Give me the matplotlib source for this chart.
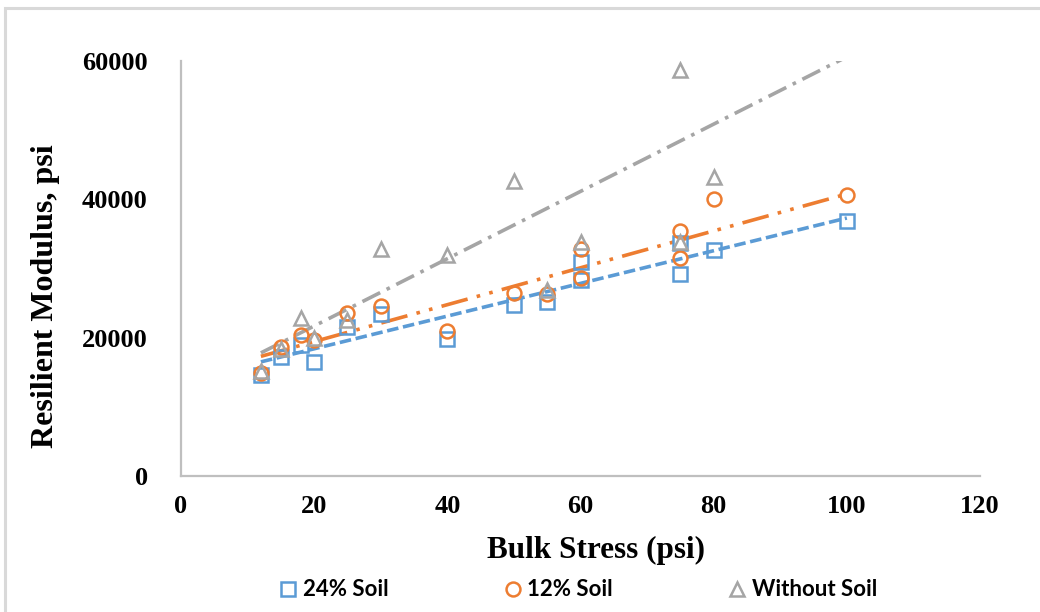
import matplotlib
matplotlib.use("Agg")
import matplotlib.pyplot as plt
from matplotlib.lines import Line2D
from matplotlib.patches import Rectangle

# Bulk stress (psi) and resilient modulus (psi) per mix
x_24 = [12, 15, 18, 20, 25, 30, 40, 50, 55, 60, 60, 75, 75, 80, 100]
y_24 = [14600, 17200, 18940, 16480, 21540, 23420, 19800, 24720, 25150,
        30940, 28300, 33690, 29200, 32670, 36870]

x_12 = [12, 15, 18, 20, 25, 30, 40, 50, 55, 60, 60, 75, 75, 80, 100]
y_12 = [14900, 18650, 20390, 19660, 23570, 24580, 20960, 26460, 26310,
        32800, 28600, 35420, 31520, 40050, 40620]

x_0 = [12, 15, 18, 20, 25, 30, 40, 50, 55, 60, 75, 75, 80]
y_0 = [15200, 18300, 22840, 19900, 22500, 32800, 31950, 42650, 26890,
       33830, 58700, 33800, 43200]

# Linear trendline end points
trend_x = [12, 100]
trend_24 = [16500, 37300]
trend_12 = [17300, 40770]
trend_0 = [17800, 60600]

labels = ["24% Soil", "12% Soil", "Without Soil"]
x_ticks = [0, 20, 40, 60, 80, 100, 120]
y_ticks = [0, 20000, 40000, 60000]

BLUE = "#5B9BD5"
ORANGE = "#ED7D31"
GRAY = "#A5A5A5"
AXIS = "#BFBFBF"

serif = ["Liberation Serif", "DejaVu Serif"]

fig = plt.figure(figsize=(10.4, 6.12), dpi=100)
fig.patches.append(Rectangle((0.005, -0.1), 1.2, 1.087, transform=fig.transFigure,
                             fill=False, edgecolor="#D9D9D9", linewidth=2.2))

ax = fig.add_axes([181 / 1040, 136 / 612, 799 / 1040, 415 / 612])

lw = 2.6
ax.plot(trend_x, trend_24, color=BLUE, lw=lw, dashes=(3.2, 1.3),
        dash_capstyle="butt", zorder=2)
ax.plot(trend_x, trend_12, color=ORANGE, lw=lw,
        dashes=(7.5, 2.6, 1.0, 2.6, 1.0, 2.6), dash_capstyle="butt", zorder=2)
ax.plot(trend_x, trend_0, color=GRAY, lw=lw, dashes=(5.5, 2.0, 1.0, 2.0),
        dash_capstyle="butt", zorder=2)

mk = dict(linestyle="none", markerfacecolor="none", markeredgewidth=1.8)
ax.plot(x_24, y_24, marker="s", markersize=9.5, markeredgecolor=BLUE, zorder=3, **mk)
ax.plot(x_12, y_12, marker="o", markersize=10, markeredgecolor=ORANGE, zorder=3, **mk)
ax.plot(x_0, y_0, marker="^", markersize=9.5, markeredgecolor=GRAY, zorder=3, **mk)

ax.set_xlim(0, 120)
ax.set_ylim(0, 60000)
ax.set_xticks(x_ticks)
ax.set_yticks(y_ticks)
ax.tick_params(axis="x", length=0, pad=14)
ax.tick_params(axis="y", length=0, pad=24)
for lab in ax.get_xticklabels() + ax.get_yticklabels():
    lab.set_fontfamily(serif)
    lab.set_fontweight("bold")
    lab.set_fontsize(19)

for side in ("top", "right"):
    ax.spines[side].set_visible(False)
for side in ("left", "bottom"):
    ax.spines[side].set_color(AXIS)
    ax.spines[side].set_linewidth(1.6)

ax.set_xlabel("Bulk Stress (psi)", family=serif, fontweight="bold", fontsize=22.5)
ax.set_ylabel("Resilient Modulus, psi", family=serif, fontweight="bold", fontsize=23)
ax.xaxis.set_label_coords(0.519, -0.145)
ax.yaxis.set_label_coords(-0.152, 0.434)

handles = [
    Line2D([], [], marker="s", markeredgecolor=BLUE, markersize=10, **mk),
    Line2D([], [], marker="o", markeredgecolor=ORANGE, markersize=10, **mk),
    Line2D([], [], marker="^", markeredgecolor=GRAY, markersize=10, **mk),
]
fig.legend(handles, labels, loc="center", bbox_to_anchor=(0.557, 0.036), ncol=3,
           frameon=False, handlelength=0.6, handletextpad=0.35, columnspacing=5.3,
           prop={"family": ["Lato", "DejaVu Sans"], "weight": "bold", "size": 16})

fig.savefig("out.png", dpi=100)
